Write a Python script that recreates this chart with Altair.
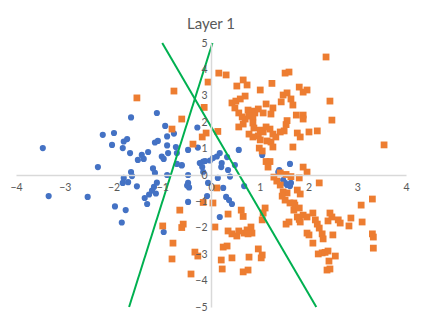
import altair as alt
import pandas as pd

# Blue series (circles)
blue_x = [-3.45, -2.22, -1.99, -1.64, -1.11, -2.03, -1.81, -1.79, -1.72, -1.66,
          -1.50, -1.42, -1.38, -1.29, -1.15, -1.09, -0.94, -0.90, -0.90, -0.76,
          -0.72, -0.70, -1.01, -0.97, -0.88, -0.70, -0.60, -0.47, -0.28, -0.27,
          -0.23, -0.16, -0.18, -0.16, -2.32, -1.79, -1.64, -1.62, -1.19, -1.15,
          -0.90, -0.47, -0.02, 0.04, 0.12, 0.18, 0.22, 0.33, 0.35, 0.49,
          0.21, 0.57, 1.05, 1.62, 1.40, 0.39, 0.14, -3.33, -2.53, -1.97,
          -1.75, -1.83, -1.81, -1.70, -1.52, -1.36, -1.31, -1.27, -1.21, -1.17,
          -1.11, -1.13, -0.97, -0.47, -0.47, -0.45, -0.08, -0.06, 0.25, 0.18,
          0.31, 0.37, 0.43, 0.68, 1.38, 1.48, 1.56, 1.62, 1.52, 1.64,
          -0.49, -0.12, -0.60]
blue_y = [1.02, 1.52, 1.59, 2.18, 2.35, 1.14, 1.02, 1.27, 1.36, 0.83,
          0.57, 0.76, 0.61, 0.87, 1.23, 1.29, 1.86, 1.46, 1.12, 1.57,
          1.06, 0.83, 0.70, 0.61, 0.83, 0.42, 0.36, 0.95, 1.80, 1.04,
          0.45, 0.51, 0.30, 0.11, 0.30, -0.11, 0.11, -0.04, 0.25, 0.08,
          0.00, 0.00, 0.55, 0.64, 0.70, 0.83, 0.45, 0.68, 0.19, 0.38,
          0.30, 0.95, 0.76, 0.42, 0.19, -0.06, -0.11, -0.80, -0.83, -1.19,
          -1.33, -1.80, -0.30, -0.27, -0.43, -0.87, -1.10, -0.74, -0.59, -0.45,
          -0.29, -0.70, -2.16, -1.02, -0.30, -0.47, -0.80, -0.30, -0.49, -1.59,
          -0.83, -0.95, -1.10, -0.42, 0.11, -0.19, -0.38, -0.42, -0.30, -0.30,
          -0.40, 0.53, 0.38]

# Orange series (squares)
orange_x = [-1.52, -0.76, -0.60, -0.80, -0.37, -0.14, -0.06, -0.18, -0.10,
            -0.99, -0.64, -0.57, -0.60, -0.78, -0.80, -0.33, -0.27, -0.41, -0.16,
            0.04, 0.12, 0.08, 0.35, 0.62, 0.66, 0.35, 0.43, 0.53, 0.57,
            0.68, 0.74, 0.82, 0.84, 0.76, 0.25, 0.33, 0.21, 0.43, 0.23,
            0.66, 0.76, 0.78, 0.97, 1.05, 1.03, 1.05, 1.07, 1.11,
            1.48, 1.56, 1.52, 1.62, 1.70, 1.70, 1.77, 1.81, 1.89, 1.97,
            2.09, 2.14, 2.18, 2.22, 2.28, 2.30, 2.40, 2.48, 2.44, 2.61,
            2.65, 2.87, 2.83, 3.10, 2.50, 1.97, 2.01, 2.09, 2.20, 2.28,
            2.34, 2.40, 2.55, 2.42, 2.38, 2.44, 3.08, 3.31, 3.31, 3.33,
            3.33, 2.22, 1.54, 1.60, 1.83, 1.72, 1.81, 1.35, 1.42, 1.46,
            1.77, 1.83,
            1.97, 1.89, 1.13, 1.21, 1.17, 1.54, 1.64, 1.29, 1.81, 1.42,
            0.16, 0.31, 0.53, 0.66, 0.74, 1.01, 1.25, 1.52, 1.60, 1.81,
            1.97, 1.89, 2.36, 2.44, 2.48, 2.18, 2.01, 3.55, 1.68, 0.43,
            0.51, 0.60, 0.70, 0.49, 0.57, 0.64, 0.70, 0.76, 0.84, 0.90,
            0.78, 0.86, 0.97, 1.07, 1.13, 1.23, 1.27, 1.44, 1.48, 1.56,
            1.64, 1.68, 1.75, 1.89, 1.89, 1.56, 1.54, 0.57, 0.66, 0.86,
            0.88, 0.78, 0.86, 0.97, 1.01, 1.07, 1.13, 1.21, 1.27, 1.33,
            1.42, 1.50, 1.15, 1.23, 1.27, 1.01, 0.99, 1.05, 1.77, 1.83,
            0.14]
orange_y = [2.92, 3.18, 2.12, 1.74, 1.17, 2.56, 3.52, 1.44, 1.59,
            -1.93, -1.33, -1.86, -1.99, -2.58, -3.18, -2.92, -3.07, -3.75, -1.04,
            -1.06, -0.49, -1.97, -1.48, -1.33, -1.57, -2.12, -2.23, -2.31, -2.12,
            -2.20, -2.08, -1.97, -2.20, -2.23, -2.73, -2.69, -3.22, -3.14, -3.56,
            -3.67, -3.60, -3.11, -2.80, -3.03, -3.14, -1.70, -1.44, -1.25,
            -0.64, -0.68, -0.95, -1.06, -1.06, -1.33, -1.59, -1.68, -1.52, -1.59,
            -1.44, -1.70, -1.86, -2.01, -2.23, -2.42, -1.74, -1.59, -1.44, -1.70,
            -1.82, -1.63, -1.93, -1.78, -2.27, -2.20, -2.27, -2.58, -2.99, -2.95,
            -2.93, -2.88, -3.07, -3.26, -3.60, -3.56, -1.14, -0.91, -2.23, -2.35,
            -2.77, -0.30, -1.86, -1.78, -1.78, -1.14, -1.25, -0.23, -0.38, -0.80,
            -0.57, -0.72,
            0.11, 0.30, 0.51, 0.51, 0.30, 0.02, -0.06, -0.08, -0.11, 0.08,
            3.86, 3.79, 3.37, 3.60, 3.41, 3.22, 3.47, 3.86, 3.90, 3.33,
            3.22, 3.14, 4.47, 2.80, 2.08, 1.67, 1.63, 1.14, 1.06, 2.73,
            2.80, 2.88, 2.99, 2.54, 2.35, 2.20, 2.12, 2.46, 2.42, 2.35,
            2.23, 2.20, 2.50, 2.35, 2.69, 2.31, 2.54, 2.77, 3.03, 3.11,
            2.88, 2.65, 2.27, 2.27, 2.12, 2.06, 1.91, 1.82, 1.93, 1.97,
            1.78, 1.55, 1.44, 1.48, 1.70, 1.63, 1.82, 1.74, 1.55, 1.44,
            1.63, 1.67, 1.29, 1.25, 1.06, 1.33, 1.02, 0.91, 1.59, 1.44,
            1.65]

# Two green separating lines (endpoints)
line_id = ["a", "a", "b", "b"]
line_x = [-1.00, 2.16, 0.03, -1.68]
line_y = [5, -5, 5, -5]

x_ticks = [-4, -3, -2, -1, 0, 1, 2, 3, 4]
y_ticks = [-5, -4, -3, -2, -1, 0, 1, 2, 3, 4, 5]

W, H = 390, 264
FONT = "Lato"
LABEL_COLOR = "#595959"

blue_df = pd.DataFrame({"x": blue_x, "y": blue_y})
orange_df = pd.DataFrame({"x": orange_x, "y": orange_y})
line_df = pd.DataFrame({"id": line_id, "x": line_x, "y": line_y})

xscale = alt.Scale(domain=[-4, 4], nice=False, zero=False)
yscale = alt.Scale(domain=[-5, 5], nice=False, zero=False)

common_axis = dict(
    domainColor="#D9D9D9", domainWidth=1.5, ticks=False, grid=False,
    labelColor=LABEL_COLOR, labelFontSize=10.5, labelFont=FONT,
    labelFlush=False, labelOverlap=False, labelSeparation=0, title=None,
    zindex=1,
)
xaxis = alt.Axis(values=x_ticks, tickCount=9, offset=-H / 2, labelPadding=7, **common_axis)
yaxis = alt.Axis(values=y_ticks, tickCount=11, offset=-W / 2, labelPadding=4, **common_axis)

blue = alt.Chart(blue_df).mark_circle(size=38, opacity=1, color="#4472C4").encode(
    x=alt.X("x:Q", scale=xscale, axis=xaxis),
    y=alt.Y("y:Q", scale=yscale, axis=yaxis),
)
orange = alt.Chart(orange_df).mark_square(size=46, opacity=1, color="#ED7D31").encode(
    x=alt.X("x:Q", scale=xscale, axis=xaxis),
    y=alt.Y("y:Q", scale=yscale, axis=yaxis),
)
lines = alt.Chart(line_df).mark_line(color="#00B050", strokeWidth=2).encode(
    x=alt.X("x:Q", scale=xscale, axis=xaxis),
    y=alt.Y("y:Q", scale=yscale, axis=yaxis),
    detail="id:N",
)

chart = alt.layer(blue, orange, lines).properties(
    width=W, height=H,
    background="white",
    title=alt.TitleParams("Layer 1", fontSize=15, font=FONT, color=LABEL_COLOR,
                          fontWeight="normal", anchor="middle", offset=6),
    autosize=alt.AutoSizeParams(type="none"),
    padding={"left": 8, "top": 35, "right": 9, "bottom": 6},
).configure_view(strokeWidth=0, stroke=None)

chart.save("out.html", embed_options={"renderer": "svg", "actions": False})
